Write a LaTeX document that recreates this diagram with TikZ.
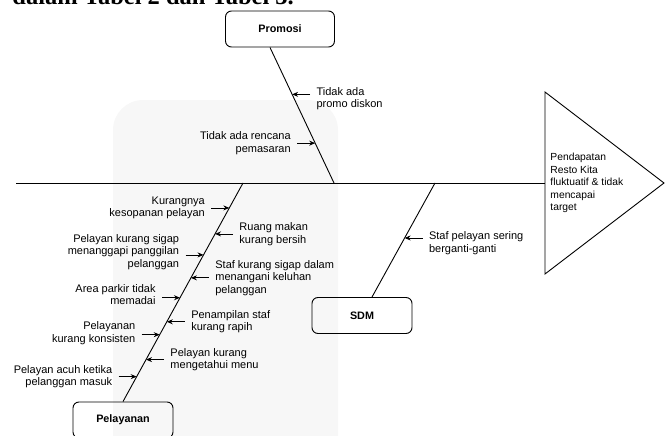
\documentclass[tikz,border=0pt]{standalone}
\usepackage{fontspec}
\setmainfont{Liberation Sans}
\newfontfamily\docfont{Liberation Serif}
\usetikzlibrary{arrows.meta,calc}

\tikzset{
  bonebox/.style={draw, rounded corners=6pt, minimum width=100pt, minimum height=36pt,
    font=\fontsize{10.8}{12}\selectfont\bfseries},
  causeL/.style={anchor=east, align=right, inner xsep=6pt, inner ysep=0pt,
    font=\fontsize{11}{12.5}\selectfont},
  causeR/.style={anchor=west, align=left, inner xsep=6pt, inner ysep=0pt,
    font=\fontsize{11}{12.5}\selectfont},
  cause/.style={->, line width=0.8pt},
}

\begin{document}
\begin{tikzpicture}[x=1pt, y=-1pt, line width=0.9pt,
    >={Stealth[length=6pt,width=5pt,inset=2pt]}]
  \useasboundingbox (0,0) rectangle (667,436);

  % page text cut off above the figure
  \node[anchor=base west, inner sep=0pt, font=\docfont\bfseries\fontsize{24.5}{30}\selectfont] (doc)
    at (12,4.5) {dalam Tabel 2 dan Tabel 3.};

  % light background
  \fill[black!3, rounded corners=30pt] (113,100) rectangle (338,470);

  % head
  \draw (545,92) -- (664,183) -- (545,274) -- cycle;
  \node[anchor=west, align=left, inner xsep=5pt, font=\fontsize{10.3}{12.5}\selectfont] (effect)
    at (545,183) {Pendapatan\\Resto Kita\\fluktuatif \& tidak\\mencapai\\target};

  % spine
  \coordinate (tail) at (16,183);
  \draw (tail) -- (effect.west);

  % categories
  \node[bonebox, minimum width=109pt] (prom) at (280,29) {Promosi};
  \node[bonebox] (pel) at (123,420) {Pelayanan};
  \node[bonebox] (sdm) at (362,315.5) {SDM};

  \coordinate (sp) at (334,183);
  \coordinate (sl) at (243,183);
  \coordinate (ss) at (435,183);
  \coordinate (pt) at ([xshift=-10pt]prom.south);
  \coordinate (sb) at ([xshift=10pt]sdm.north);
  \draw (pt) -- (sp);
  \draw (pel.north) -- (sl);
  \draw (sb) -- (ss);

  % Promosi
  \coordinate (p1) at ($(pt)!0.346!(sp)$);
  \coordinate (p2) at ($(pt)!0.706!(sp)$);
  \node[causeR] (c1) at ($(p1)+(18,4.5)$) {Tidak ada\\promo diskon};
  \draw[cause] (c1.west |- p1) -- (p1);
  \node[causeL] (c2) at ($(p2)+(-18,0)$) {Tidak ada rencana\\pemasaran};
  \draw[cause] (c2.east |- p2) -- (p2);

  % Pelayanan, left side
  \coordinate (k1) at ($(sl)!0.114!(pel.north)$);
  \coordinate (k2) at ($(sl)!0.329!(pel.north)$);
  \coordinate (k3) at ($(sl)!0.525!(pel.north)$);
  \coordinate (k4) at ($(sl)!0.694!(pel.north)$);
  \coordinate (k5) at ($(sl)!0.886!(pel.north)$);
  \node[causeL] (l1) at ($(k1)+(-18,0)$) {Kurangnya\\kesopanan pelayan};
  \draw[cause] (l1.east |- k1) -- (k1);
  \node[causeL] (l2) at ($(k2)+(-18,-3)$) {Pelayan kurang sigap\\menanggapi panggilan\\pelanggan};
  \draw[cause] (l2.east |- k2) -- (k2);
  \node[causeL] (l3) at ($(k3)+(-18,-3)$) {Area parkir tidak\\memadai};
  \draw[cause] (l3.east |- k3) -- (k3);
  \node[causeL] (l4) at ($(k4)+(-18,-1.5)$) {Pelayanan\\kurang konsisten};
  \draw[cause] (l4.east |- k4) -- (k4);
  \node[causeL] (l5) at ($(k5)+(-18,0)$) {Pelayan acuh ketika\\pelanggan masuk};
  \draw[cause] (l5.east |- k5) -- (k5);

  % Pelayanan, right side
  \coordinate (r1) at ($(sl)!0.233!(pel.north)$);
  \coordinate (r2) at ($(sl)!0.434!(pel.north)$);
  \coordinate (r3) at ($(sl)!0.635!(pel.north)$);
  \coordinate (r4) at ($(sl)!0.808!(pel.north)$);
  \node[causeR] (m1) at ($(r1)+(18,0)$) {Ruang makan\\kurang bersih};
  \draw[cause] (m1.west |- r1) -- (r1);
  \node[causeR] (m2) at ($(r2)+(18,0)$) {Staf kurang sigap dalam\\menangani keluhan\\pelanggan};
  \draw[cause] (m2.west |- r2) -- (r2);
  \node[causeR] (m3) at ($(r3)+(18,0)$) {Penampilan staf\\kurang rapih};
  \draw[cause] (m3.west |- r3) -- (r3);
  \node[causeR] (m4) at ($(r4)+(18,0)$) {Pelayan kurang\\mengetahui menu};
  \draw[cause] (m4.west |- r4) -- (r4);

  % SDM
  \coordinate (d1) at ($(ss)!0.482!(sb)$);
  \node[causeR] (s1) at ($(d1)+(18,5)$) {Staf pelayan sering\\berganti-ganti};
  \draw[cause] (s1.west |- d1) -- (d1);
\end{tikzpicture}
\end{document}
